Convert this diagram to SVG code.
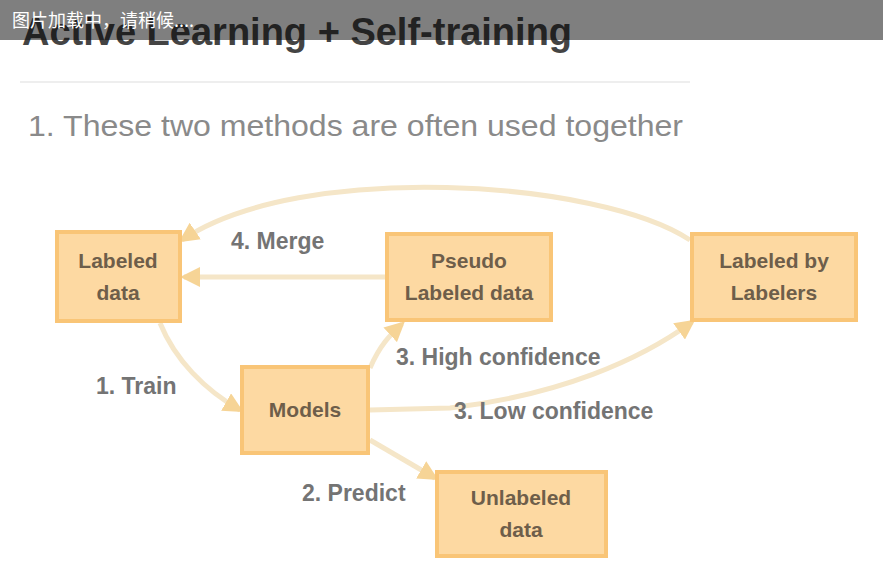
<svg xmlns="http://www.w3.org/2000/svg" width="883" height="572" viewBox="0 0 883 572">
<defs>
<marker id="ah" viewBox="0 0 10 10" refX="8" refY="5" markerWidth="4" markerHeight="4" orient="auto">
<path d="M0,0 L10,5 L0,10 z" fill="#f6d496"/>
</marker>
<style>
.box{fill:#fdd9a2;stroke:#f9c577;stroke-width:4}
.bt{font-family:"Liberation Sans",Arial,sans-serif;font-size:21px;fill:#6e5e4a;text-anchor:middle;font-weight:bold}
.edge{fill:none;stroke:#f5e6c8;stroke-width:5;marker-end:url(#ah)}
.lbl{font-family:"Liberation Sans",Arial,sans-serif;font-size:23px;fill:#747474;font-weight:bold}
</style>
</defs>
<rect width="883" height="572" fill="#ffffff"/>
<text x="22" y="45" font-family="'Liberation Sans',Arial,sans-serif" font-size="38" font-weight="bold" fill="#444444">Active Learning + Self-training</text>
<line x1="20" y1="82" x2="690" y2="82" stroke="#eeeeee" stroke-width="2"/>
<text x="28" y="136" font-family="'Liberation Sans',Arial,sans-serif" font-size="29" fill="#8a8a8a" textLength="655" lengthAdjust="spacingAndGlyphs">1. These two methods are often used together</text>

<g id="connectors">
<path class="edge" d="M690,240 C600,180 300,160 182,240"/>
<path class="edge" d="M385,277 L184,277"/>
<path class="edge" d="M160,323 C175,360 205,390 240,410"/>
<path class="edge" d="M370,440 L435,478"/>
<path class="edge" d="M370,368 C380,345 390,335 402,324"/>
<path class="edge" d="M370,410 L450,408 C560,395 640,360 692,322"/>
</g>
<g id="lbl-merge"><text class="lbl" x="231" y="249">4. Merge</text></g>
<g id="lbl-train"><text class="lbl" x="96" y="394">1. Train</text></g>
<g id="lbl-predict"><text class="lbl" x="302" y="501">2. Predict</text></g>
<g id="lbl-high"><text class="lbl" x="396" y="365">3. High confidence</text></g>
<g id="lbl-low"><text class="lbl" x="454" y="419">3. Low confidence</text></g>

<g id="labeled-data">
<rect class="box" x="57" y="232" width="123" height="89"/>
<text class="bt" x="118" y="268">Labeled</text>
<text class="bt" x="118" y="300">data</text>
</g>
<g id="pseudo-labeled">
<rect class="box" x="387" y="234" width="164" height="86"/>
<text class="bt" x="469" y="268">Pseudo</text>
<text class="bt" x="469" y="300">Labeled data</text>
</g>
<g id="labelers">
<rect class="box" x="692" y="234" width="164" height="86"/>
<text class="bt" x="774" y="268">Labeled by</text>
<text class="bt" x="774" y="300">Labelers</text>
</g>
<g id="models">
<rect class="box" x="242" y="367" width="126" height="86"/>
<text class="bt" x="305" y="417">Models</text>
</g>
<g id="unlabeled-data">
<rect class="box" x="437" y="472" width="169" height="84"/>
<text class="bt" x="521" y="505">Unlabeled</text>
<text class="bt" x="521" y="537">data</text>
</g>

<rect x="0" y="0" width="883" height="40" fill="#000000" fill-opacity="0.5"/>
<text x="12" y="27" font-family="'Noto Sans CJK SC','Noto Sans',sans-serif" font-size="18" fill="#ffffff">图片加载中，请稍候....</text>
</svg>
